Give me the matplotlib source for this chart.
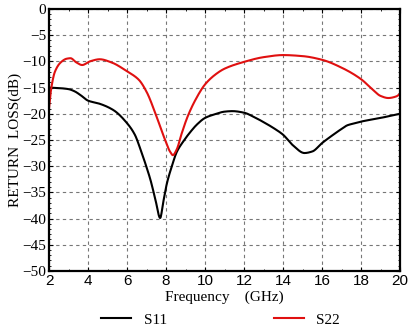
import numpy as np
import matplotlib
matplotlib.use("Agg")
import matplotlib.pyplot as plt
from matplotlib.ticker import MultipleLocator

# S11 (black) sampled points
f11 = [2.0, 2.5, 3.0, 3.3, 3.6, 4.0, 4.6, 5.3, 6.0, 6.4, 6.7, 7.0, 7.2, 7.45, 7.7, 7.85, 8.05, 8.3, 8.55, 8.9, 9.2, 9.6, 10.0, 10.5, 11.0, 11.4, 12.0, 12.5, 13.0, 13.5, 14.0, 14.5, 15.1, 15.5, 16.0, 16.5, 17.0, 17.3, 17.7, 18.0, 19.0, 20.0]
s11 = [-15.0, -15.1, -15.3, -15.7, -16.4, -17.5, -18.1, -19.3, -21.8, -24.0, -26.9, -30.2, -32.6, -36.3, -39.9, -37.0, -33.2, -30.0, -27.3, -25.2, -23.7, -22.0, -20.8, -20.1, -19.6, -19.5, -19.8, -20.6, -21.6, -22.7, -24.0, -26.0, -27.5, -27.2, -25.6, -24.2, -22.9, -22.2, -21.8, -21.5, -20.8, -20.0]

# S22 (red) sampled points
f22 = [2.0, 2.1, 2.3, 2.6, 2.9, 3.1, 3.4, 3.7, 4.1, 4.6, 5.2, 6.0, 6.6, 7.0, 7.5, 7.9, 8.2, 8.35, 8.55, 8.8, 9.1, 9.5, 10.0, 10.5, 11.0, 12.0, 13.0, 14.0, 15.0, 16.0, 17.0, 18.0, 18.6, 19.0, 19.4, 19.8, 20.0]
s22 = [-19.0, -15.5, -12.0, -10.2, -9.5, -9.4, -10.2, -10.7, -10.0, -9.6, -10.2, -11.9, -13.5, -15.8, -20.4, -24.5, -27.2, -27.9, -26.8, -23.8, -20.6, -17.4, -14.4, -12.6, -11.4, -10.1, -9.2, -8.8, -9.0, -9.7, -11.2, -13.4, -15.4, -16.6, -17.0, -16.7, -16.2]

x_ticks = [2, 4, 6, 8, 10, 12, 14, 16, 18, 20]
y_ticks = [0, -5, -10, -15, -20, -25, -30, -35, -40, -45, -50]

serif = ["Liberation Serif", "Noto Sans CJK SC", "DejaVu Serif"]
sans = ["Liberation Sans", "DejaVu Sans"]

fig = plt.figure(figsize=(4.12, 3.32), dpi=100)
ax = fig.add_axes([0.119, 0.184, 0.852, 0.789])

def smooth(xs, ys):
    xs = np.asarray(xs, float); ys = np.asarray(ys, float)
    n = len(xs)
    h = np.diff(xs); d = np.diff(ys) / h
    m = np.zeros(n)
    for i in range(1, n - 1):
        if d[i - 1] * d[i] <= 0:
            m[i] = 0
        else:
            w1 = 2 * h[i] + h[i - 1]; w2 = h[i] + 2 * h[i - 1]
            m[i] = (w1 + w2) / (w1 / d[i - 1] + w2 / d[i])
    m[0] = d[0]; m[-1] = d[-1]
    xx = np.linspace(xs[0], xs[-1], 1000)
    idx = np.clip(np.searchsorted(xs, xx) - 1, 0, n - 2)
    t = (xx - xs[idx]) / h[idx]
    h00 = 2*t**3 - 3*t**2 + 1; h10 = t**3 - 2*t**2 + t
    h01 = -2*t**3 + 3*t**2; h11 = t**3 - t**2
    yy = h00*ys[idx] + h10*h[idx]*m[idx] + h01*ys[idx+1] + h11*h[idx]*m[idx+1]
    return xx, yy

x1, y1 = smooth(f11, s11)
x2, y2 = smooth(f22, s22)
ax.plot(x1, y1, color="black", lw=1.5, label="S11")
ax.plot(x2, y2, color="#e01010", lw=1.5, label="S22")

ax.set_xlim(2, 20)
ax.set_ylim(-50, 0)
ax.set_xticks(x_ticks)
ax.set_yticks(y_ticks)
ax.set_xticklabels([str(v) for v in x_ticks], family=sans, fontsize=11)
ax.set_yticklabels([str(v).replace("-", "\u2212") for v in y_ticks], family=serif, fontsize=11)
ax.xaxis.set_minor_locator(MultipleLocator(1))
ax.yaxis.set_minor_locator(MultipleLocator(1))
ax.tick_params(which="both", direction="in", top=True, right=True)
ax.tick_params(which="major", length=3, width=0.8, pad=2)
ax.tick_params(which="minor", length=1.5, width=0.6)
ax.grid(True, which="major", linestyle=(0, (3, 3)), color="#777777", lw=0.8)
for s in ax.spines.values():
    s.set_linewidth(1.6)

ax.set_xlabel("Frequency\u3000(GHz)", family=serif, fontsize=11, labelpad=2)
ax.set_ylabel("RETURN  LOSS(dB)", family=serif, fontsize=11, labelpad=0)

fig.legend(loc="lower center", bbox_to_anchor=(0.535, -0.025), ncol=2, frameon=False,
           prop={"family": serif, "size": 11}, columnspacing=7.0, handlelength=2.0)

fig.savefig("out.png", dpi=100)
